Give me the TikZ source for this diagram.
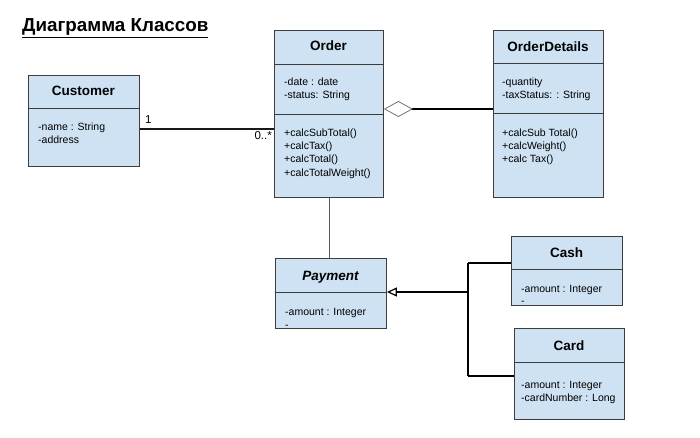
\documentclass[tikz,border=0pt]{standalone}
\usepackage{fontspec}
\setmainfont{Liberation Sans}
\usetikzlibrary{arrows.meta}
\definecolor{boxfill}{HTML}{CFE2F3}
\definecolor{boxline}{HTML}{3C3C3C}
\begin{document}
\begin{tikzpicture}[x=1pt,y=-1pt,
  cls/.style={draw=boxline, fill=boxfill, line width=0.9pt, rectangle, inner sep=0pt, anchor=north west},
  divider/.style={draw=boxline, line width=0.9pt},
  hdr/.style={font=\fontsize{13.5}{16}\selectfont\bfseries, anchor=base, inner sep=0pt},
  txt/.style={font=\fontsize{10.5}{13}\selectfont, anchor=base west, inner sep=0pt},
  mult/.style={font=\fontsize{11.5}{13}\selectfont, anchor=base west, inner sep=0pt},
  assoc/.style={line width=1.8pt, draw=black!90},
]
\useasboundingbox[fill=white] (0,0) rectangle (700,438);

% title
\node[anchor=base west, inner sep=0pt, font=\fontsize{18.8}{21}\selectfont\bfseries] (title) at (22,32) {\underline{Диаграмма Классов}};

% Customer
\node[cls, minimum width=111pt, minimum height=91pt] (cust) at (28,75) {};
\draw[divider] (cust.west |- 0,108) -- (cust.east |- 0,108);
\node[hdr] (custh) at (83.5,96) {Customer};
\node[txt] (custa1) at (38,131) {-name : String};
\node[txt] (custa2) at (38,144) {-address};

% Order
\node[cls, minimum width=109pt, minimum height=167pt] (order) at (274,30) {};
\draw[divider] (order.west |- 0,64) -- (order.east |- 0,64);
\draw[divider] (order.west |- 0,114) -- (order.east |- 0,114);
\node[hdr] (orderh) at (328.5,51) {Order};
\node[txt] (ordera1) at (284,86) {-date : date};
\node[txt] (ordera2) at (284,99) {-status: String};
\node[txt] (orderm1) at (284,137) {+calcSubTotal()};
\node[txt] (orderm2) at (284,150) {+calcTax()};
\node[txt] (orderm3) at (284,163) {+calcTotal()};
\node[txt] (orderm4) at (284,177) {+calcTotalWeight()};

% OrderDetails
\node[cls, minimum width=110pt, minimum height=167pt] (od) at (493,30) {};
\draw[divider] (od.west |- 0,63) -- (od.east |- 0,63);
\draw[divider] (od.west |- 0,113) -- (od.east |- 0,113);
\node[hdr] (odh) at (548,52) {OrderDetails};
\node[txt] (oda1) at (502,86) {-quantity};
\node[txt] (oda2) at (502,99) {-taxStatus: : String};
\node[txt] (odm1) at (502,137) {+calcSub Total()};
\node[txt] (odm2) at (502,150) {+calcWeight()};
\node[txt] (odm3) at (502,163) {+calc Tax()};

% Payment
\node[cls, minimum width=111pt, minimum height=70pt] (pay) at (275,258) {};
\draw[divider] (pay.west |- 0,292) -- (pay.east |- 0,292);
\node[hdr, font=\fontsize{13.5}{16}\selectfont\bfseries\itshape] (payh) at (330.5,280) {Payment};
\node[txt] (paya1) at (285,315) {-amount : Integer};
\node[txt] (paya2) at (285,328) {-};

% Cash
\node[cls, minimum width=111pt, minimum height=69pt] (cash) at (511,236) {};
\draw[divider] (cash.west |- 0,269) -- (cash.east |- 0,269);
\node[hdr] (cashh) at (566.5,257) {Cash};
\node[txt] (casha1) at (521,292) {-amount : Integer};
\node[txt] (casha2) at (521,304) {-};

% Card
\node[cls, minimum width=110pt, minimum height=91pt] (card) at (514,328) {};
\draw[divider] (card.west |- 0,362) -- (card.east |- 0,362);
\node[hdr] (cardh) at (569,350) {Card};
\node[txt] (carda1) at (521,388) {-amount : Integer};
\node[txt] (carda2) at (521,401) {-cardNumber : Long};

% association Customer - Order
\draw[assoc] (cust.east |- 0,129) -- (order.west |- 0,129);
\node[mult] (m1) at (145,124) {1};
\node[mult, anchor=base east] (m2) at (272,140) {0..*};

% aggregation Order <>- OrderDetails
\draw[line width=2.4pt, draw=black,
  {Diamond[open, length=29pt, width=16pt, line width=0.8pt, color=black!55, fill=white]}-]
  (order.east |- 0,109) -- (od.west |- 0,109);

% Order - Payment
\draw[line width=1pt, draw=black!65] (order.south -| 329,0) -- (pay.north -| 329,0);

% generalization
\coordinate (junc) at (468,292);
\coordinate (jtop) at (468,263);
\coordinate (jbot) at (468,376);
\draw[line width=2pt, draw=black,
  {Triangle[open, length=10pt, width=9pt, line width=1.2pt, fill=white]}-]
  (pay.east |- junc) -- (junc);
\draw[line width=1.5pt] (jtop) -- (jbot);
\draw[line width=1.5pt] (jtop) -- (cash.west |- jtop);
\draw[line width=1.5pt] (jbot) -- (card.west |- jbot);
\end{tikzpicture}
\end{document}
